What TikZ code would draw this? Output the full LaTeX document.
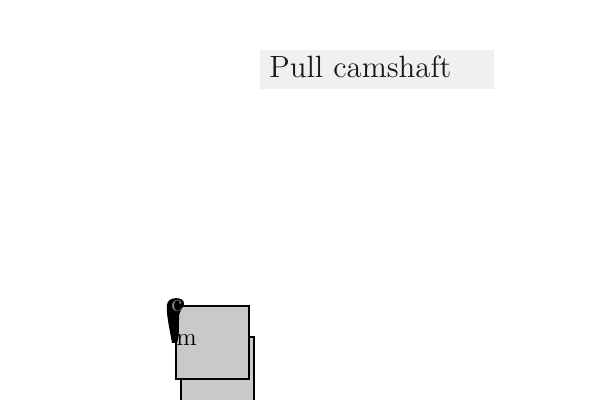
\documentclass[tikz,border=0pt]{standalone}
\begin{document}
\begin{tikzpicture}[x=0.5pt,y=-0.5pt,
  plate/.style={draw=black,line width=1pt,fill=black!21,minimum width=36.5pt,minimum height=36.5pt,inner sep=0pt},
  tag/.style={fill=black!6,minimum width=117pt,minimum height=19.5pt,inner sep=0pt},
  tagtext/.style={text=black!90,inner sep=0pt},
  glyph/.style={font=\fontsize{12.5}{15}\selectfont,inner sep=0pt}]
\clip (0,0) rectangle (600,400);
\fill[white] (0,0) rectangle (600,400);
\node[tag] (tagbox) at (377,69.5) {};
\node[tagtext,anchor=base west] (tagtxt) at (269,78) {\scalebox{1.06}{\fontsize{14.5}{17}\selectfont Pull camshaft}};
\node[plate] (back) at (217,373.5) {};
\node[plate] (front) at (212.5,342.5) {};
\fill[black] (172,343) .. controls (169,326) and (166,313) .. (167,305)
  .. controls (167,296) and (185,296) .. (184,304)
  .. controls (183,309) and (179,310) .. (179,318)
  .. controls (179,330) and (179,338) .. (177,343) -- cycle;
\node[glyph,text=black!45,anchor=base west] (cc) at (171,312) {c};
\node[glyph,anchor=base west] (mm) at (176,346) {m};
\end{tikzpicture}
\end{document}
